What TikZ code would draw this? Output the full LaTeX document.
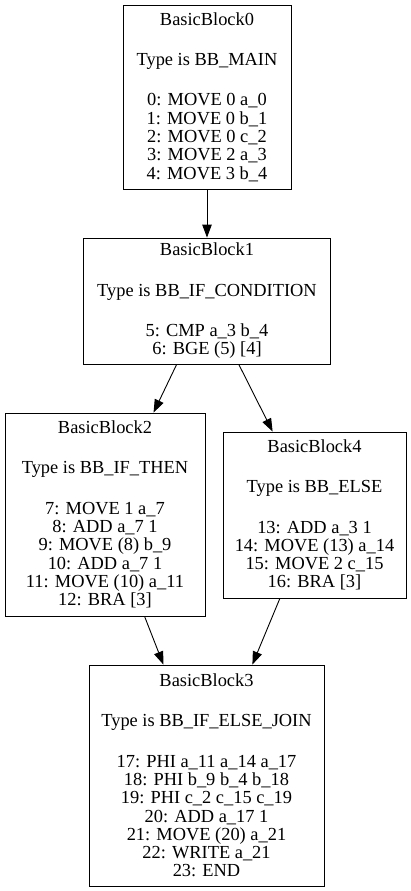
\documentclass[tikz,border=0pt]{standalone}
\usepackage{fontspec}
\setmainfont{Liberation Serif}
\usetikzlibrary{arrows.meta}
\tikzset{
  bb/.style={draw, line width=0.9pt, inner sep=0pt, align=center,
    font=\fontsize{18.4}{18.3}\selectfont},
  flow/.style={line width=0.9pt, -{Triangle[length=13pt,width=9.5pt]}}
}
\begin{document}
\begin{tikzpicture}[x=1pt,y=-1pt]
\useasboundingbox (0,0) rectangle (411,891);
\node[bb, minimum width=168pt, minimum height=184pt] (bb0) at (207,97)
  {BasicBlock0\\[22pt]Type is BB\_MAIN\\[22pt]0: MOVE 0 a\_0\\1: MOVE 0 b\_1\\2: MOVE 0 c\_2\\3: MOVE 2 a\_3\\4: MOVE 3 b\_4};
\node[bb, minimum width=247pt, minimum height=126pt] (bb1) at (207,301)
  {BasicBlock1\\[22pt]Type is BB\_IF\_CONDITION\\[22pt]5: CMP a\_3 b\_4\\6: BGE (5) [4]};
\node[bb, minimum width=200pt, minimum height=203pt] (bb2) at (105,514.5)
  {BasicBlock2\\[22pt]Type is BB\_IF\_THEN\\[22pt]7: MOVE 1 a\_7\\8: ADD a\_7 1\\9: MOVE (8) b\_9\\10: ADD a\_7 1\\11: MOVE (10) a\_11\\12: BRA [3]};
\node[bb, minimum width=183pt, minimum height=166pt] (bb4) at (314.5,515)
  {BasicBlock4\\[22pt]Type is BB\_ELSE\\[22pt]13: ADD a\_3 1\\14: MOVE (13) a\_14\\15: MOVE 2 c\_15\\16: BRA [3]};
\node[bb, minimum width=235pt, minimum height=221pt] (bb3) at (206.5,775.5)
  {BasicBlock3\\[22pt]Type is BB\_IF\_ELSE\_JOIN\\[22pt]17: PHI a\_11 a\_14 a\_17\\18: PHI b\_9 b\_4 b\_18\\19: PHI c\_2 c\_15 c\_19\\20: ADD a\_17 1\\21: MOVE (20) a\_21\\22: WRITE a\_21\\23: END};
\draw[flow] (bb0) -- (bb1);
\draw[flow] (bb1) -- (bb2);
\draw[flow] (bb1) -- (bb4);
\draw[flow] (bb2) -- (bb3);
\draw[flow] (bb4) -- (bb3);
\end{tikzpicture}
\end{document}
